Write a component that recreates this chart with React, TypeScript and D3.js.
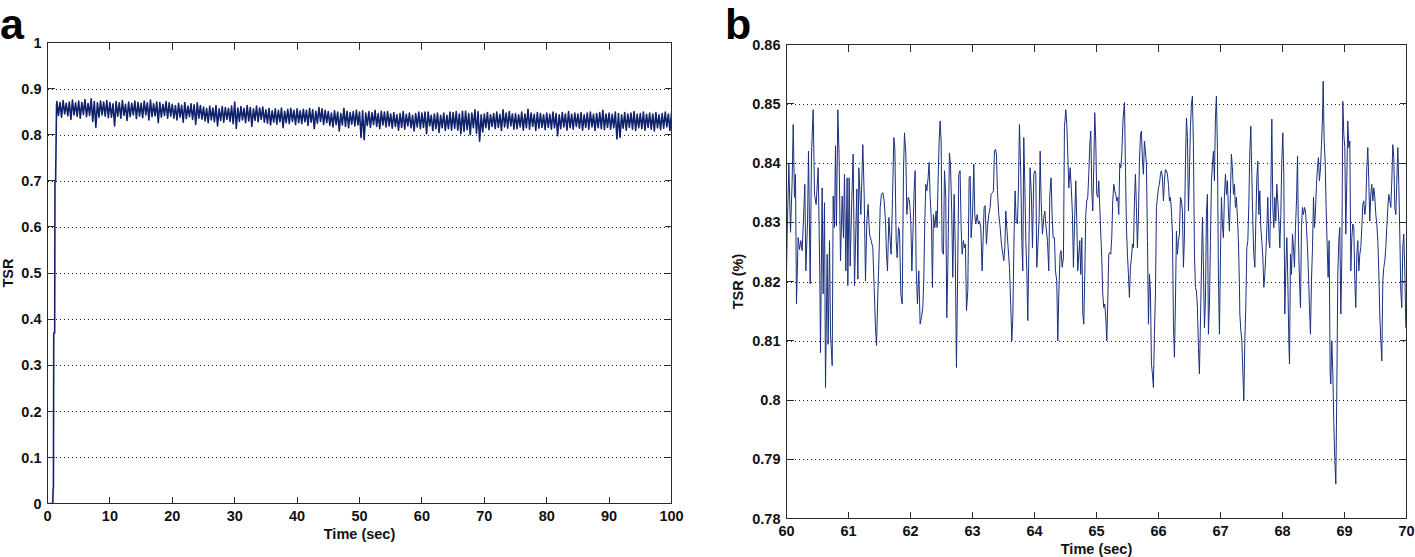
import * as React from 'react';
import * as d3 from 'd3';

const WIDTH = 1415;
const HEIGHT = 557;
const FONT = '"Liberation Sans", Arial, Helvetica, sans-serif';
const AXIS = '#2b2b2b';

// ---- panel a: whole run, 0-100 s ----
// start-up ramp before the signal settles
const rampTime = [0, 0.85, 0.9, 0.95, 1.0, 1.15, 1.2, 1.3, 1.45];
const rampTsr = [0, 0, 0.033, 0.033, 0.37, 0.37, 0.7, 0.7, 0.865];

// noisy band: local max / min every half second from 1.5 s
const bandStart = 1.5;
const bandStep = 0.5;
const bandHigh = [
  0.872, 0.870, 0.874, 0.868, 0.871, 0.875, 0.869, 0.873, 0.870, 0.876,
  0.868, 0.878, 0.872, 0.869, 0.873, 0.871, 0.874,
  0.870, 0.867, 0.872, 0.869, 0.874, 0.866, 0.871, 0.868, 0.873, 0.870,
  0.868, 0.873, 0.869, 0.875, 0.867, 0.871, 0.870, 0.866, 0.872, 0.869,
  0.866, 0.863, 0.868, 0.864, 0.870, 0.862, 0.867, 0.865, 0.869, 0.863,
  0.860, 0.857, 0.862, 0.858, 0.863, 0.856, 0.861, 0.859, 0.857, 0.862,
  0.871, 0.858, 0.861, 0.857, 0.863, 0.859, 0.856, 0.862, 0.858, 0.860,
  0.854, 0.857, 0.852, 0.856, 0.853, 0.858, 0.851, 0.855, 0.857, 0.853,
  0.856, 0.852, 0.855, 0.853, 0.857, 0.854, 0.851, 0.859, 0.856, 0.853,
  0.850, 0.847, 0.852, 0.849, 0.846, 0.857, 0.851, 0.848, 0.850, 0.853,
  0.849, 0.852, 0.847, 0.850, 0.848, 0.853, 0.846, 0.851, 0.849, 0.850,
  0.845, 0.848, 0.843, 0.846, 0.850, 0.844, 0.847, 0.842, 0.846, 0.849,
  0.847, 0.849, 0.849, 0.842, 0.845, 0.847, 0.842, 0.847, 0.842, 0.849,
  0.848, 0.850, 0.845, 0.851, 0.851, 0.846, 0.847, 0.854, 0.850, 0.843,
  0.845, 0.848, 0.843, 0.846, 0.849, 0.844, 0.854, 0.847, 0.850, 0.845,
  0.846, 0.843, 0.849, 0.845, 0.855, 0.847, 0.844, 0.848, 0.846, 0.843,
  0.847, 0.844, 0.849, 0.846, 0.843, 0.848, 0.845, 0.850, 0.844, 0.847,
  0.845, 0.848, 0.843, 0.847, 0.849, 0.844, 0.846, 0.848, 0.853, 0.845,
  0.847, 0.844, 0.849, 0.846, 0.843, 0.848, 0.845, 0.847, 0.850, 0.844,
  0.846, 0.849, 0.844, 0.847, 0.845, 0.848, 0.843, 0.846, 0.849, 0.845, 0.847,
];
const bandLow = [
  0.842, 0.838, 0.845, 0.841, 0.833, 0.843, 0.840, 0.836, 0.844, 0.839,
  0.842, 0.829, 0.816, 0.838, 0.843, 0.840, 0.837,
  0.838, 0.819, 0.840, 0.836, 0.842, 0.831, 0.839, 0.843, 0.835, 0.840,
  0.837, 0.843, 0.832, 0.839, 0.841, 0.826, 0.838, 0.842, 0.836, 0.840,
  0.836, 0.832, 0.838, 0.827, 0.835, 0.839, 0.833, 0.822, 0.836, 0.834,
  0.830, 0.826, 0.832, 0.828, 0.819, 0.831, 0.827, 0.833, 0.829, 0.824,
  0.8135, 0.829, 0.832, 0.826, 0.830, 0.818, 0.831, 0.828, 0.833, 0.827,
  0.825, 0.821, 0.827, 0.823, 0.828, 0.815, 0.826, 0.824, 0.829, 0.822,
  0.826, 0.824, 0.828, 0.820, 0.827, 0.813, 0.825, 0.829, 0.822, 0.826,
  0.820, 0.817, 0.822, 0.808, 0.821, 0.818, 0.815, 0.823, 0.819, 0.821,
  0.794, 0.789, 0.820, 0.816, 0.822, 0.818, 0.813, 0.821, 0.817, 0.819,
  0.814, 0.818, 0.810, 0.816, 0.812, 0.819, 0.815, 0.808, 0.817, 0.813,
  0.816, 0.802, 0.819, 0.809, 0.813, 0.805, 0.815, 0.809, 0.813, 0.810,
  0.814, 0.810, 0.802, 0.807, 0.811, 0.800, 0.815, 0.803, 0.786, 0.806,
  0.815, 0.811, 0.818, 0.813, 0.816, 0.809, 0.817, 0.814, 0.819, 0.812,
  0.813, 0.817, 0.810, 0.815, 0.812, 0.818, 0.809, 0.814, 0.816, 0.811,
  0.816, 0.812, 0.815, 0.798, 0.813, 0.817, 0.810, 0.815, 0.812, 0.818,
  0.814, 0.810, 0.816, 0.812, 0.817, 0.809, 0.815, 0.813, 0.811, 0.816,
  0.812, 0.815, 0.791, 0.794, 0.814, 0.810, 0.816, 0.812, 0.809, 0.815,
  0.813, 0.810, 0.816, 0.812, 0.808, 0.815, 0.811, 0.814, 0.817, 0.809, 0.812,
];

const aTicksX = [0, 10, 20, 30, 40, 50, 60, 70, 80, 90, 100];
const aTicksY = [0, 0.1, 0.2, 0.3, 0.4, 0.5, 0.6, 0.7, 0.8, 0.9, 1];
const aLabelsY = ['0', '0.1', '0.2', '0.3', '0.4', '0.5', '0.6', '0.7', '0.8', '0.9', '1'];

// ---- panel b: close-up 60-70 s, [time, TSR] at the turning points ----
const zoomSamples: [number, number][] = [
  [60.0, 0.8215], [60.011, 0.828], [60.038, 0.8398], [60.065, 0.8283], [60.091, 0.837],
  [60.108, 0.8465], [60.129, 0.8342], [60.145, 0.8381], [60.161, 0.8162], [60.188, 0.8274],
  [60.21, 0.8254], [60.231, 0.8269], [60.253, 0.8252], [60.28, 0.8322], [60.296, 0.8364],
  [60.312, 0.8218], [60.339, 0.8299], [60.355, 0.842], [60.382, 0.8196], [60.403, 0.8415],
  [60.43, 0.849], [60.452, 0.8347], [60.478, 0.833], [60.511, 0.8392], [60.538, 0.8207],
  [60.548, 0.808], [60.575, 0.8358], [60.591, 0.8179], [60.613, 0.8333], [60.629, 0.8021],
  [60.656, 0.8246], [60.672, 0.8094], [60.694, 0.8269], [60.71, 0.8111], [60.737, 0.8058],
  [60.753, 0.8344], [60.774, 0.8291], [60.79, 0.8429], [60.806, 0.8294], [60.828, 0.849],
  [60.849, 0.8409], [60.871, 0.8235], [60.898, 0.8344], [60.919, 0.8274], [60.935, 0.8381],
  [60.957, 0.8218], [60.978, 0.8375], [60.989, 0.8193], [61.011, 0.8375], [61.027, 0.8226],
  [61.048, 0.8319], [61.075, 0.8415], [61.097, 0.8193], [61.134, 0.8356], [61.151, 0.8204],
  [61.167, 0.8392], [61.199, 0.8313], [61.231, 0.8431], [61.253, 0.8347], [61.274, 0.8201],
  [61.296, 0.8302], [61.317, 0.833], [61.339, 0.828], [61.366, 0.8269], [61.392, 0.8257],
  [61.414, 0.819], [61.435, 0.8122], [61.452, 0.8092], [61.473, 0.8179], [61.489, 0.8229],
  [61.511, 0.8325], [61.532, 0.8347], [61.554, 0.835], [61.575, 0.8336], [61.597, 0.8302],
  [61.613, 0.8246], [61.629, 0.8218], [61.651, 0.8308], [61.672, 0.8269], [61.688, 0.8246],
  [61.71, 0.8342], [61.731, 0.8443], [61.747, 0.8426], [61.769, 0.8269], [61.785, 0.824],
  [61.806, 0.8291], [61.823, 0.8285], [61.844, 0.8179], [61.866, 0.8162], [61.887, 0.8387],
  [61.903, 0.8451], [61.925, 0.8415], [61.941, 0.8313], [61.962, 0.8342], [61.984, 0.8336],
  [62.005, 0.8302], [62.022, 0.8218], [62.059, 0.8353], [62.075, 0.8387], [62.091, 0.8224],
  [62.112, 0.8162], [62.134, 0.8218], [62.155, 0.8128], [62.177, 0.8139], [62.198, 0.8156],
  [62.214, 0.8201], [62.231, 0.8302], [62.247, 0.8364], [62.263, 0.8353], [62.284, 0.8375],
  [62.3, 0.8401], [62.317, 0.8342], [62.338, 0.8302], [62.354, 0.819], [62.37, 0.8313],
  [62.392, 0.8291], [62.413, 0.8319], [62.429, 0.8291], [62.446, 0.8375], [62.462, 0.8437],
  [62.478, 0.8471], [62.494, 0.8437], [62.51, 0.8252], [62.532, 0.8246], [62.548, 0.8387],
  [62.569, 0.8342], [62.585, 0.8139], [62.601, 0.8218], [62.628, 0.8417], [62.645, 0.8398],
  [62.666, 0.8313], [62.682, 0.8207], [62.704, 0.8347], [62.72, 0.8269], [62.741, 0.8055],
  [62.757, 0.8184], [62.779, 0.8381], [62.8, 0.8387], [62.817, 0.8291], [62.833, 0.8246],
  [62.854, 0.8269], [62.87, 0.8257], [62.886, 0.8263], [62.903, 0.8151], [62.924, 0.8184],
  [62.946, 0.8375], [62.962, 0.8378], [62.978, 0.8274], [63.0, 0.8313], [63.021, 0.8398],
  [63.037, 0.8313], [63.053, 0.8297], [63.075, 0.8313], [63.096, 0.8297], [63.112, 0.8302],
  [63.134, 0.8291], [63.155, 0.8218], [63.171, 0.8269], [63.187, 0.8325], [63.204, 0.8328],
  [63.225, 0.8263], [63.241, 0.8291], [63.263, 0.8313], [63.284, 0.8325], [63.3, 0.8347],
  [63.322, 0.835], [63.338, 0.8353], [63.354, 0.842], [63.37, 0.8423], [63.386, 0.8415],
  [63.402, 0.8353], [63.424, 0.8313], [63.446, 0.8291], [63.467, 0.8263], [63.489, 0.8246],
  [63.505, 0.8235], [63.521, 0.8257], [63.537, 0.8319], [63.553, 0.8291], [63.575, 0.8257],
  [63.596, 0.8224], [63.618, 0.8156], [63.634, 0.81], [63.65, 0.8139], [63.671, 0.828],
  [63.687, 0.8353], [63.704, 0.8302], [63.725, 0.8297], [63.741, 0.8358], [63.757, 0.8465],
  [63.779, 0.8381], [63.795, 0.8269], [63.811, 0.8218], [63.827, 0.8443], [63.844, 0.8364],
  [63.86, 0.8269], [63.876, 0.8218], [63.892, 0.8134], [63.908, 0.8246], [63.929, 0.8392],
  [63.951, 0.8342], [63.967, 0.8257], [63.989, 0.8381], [64.005, 0.8387], [64.021, 0.8381],
  [64.037, 0.8224], [64.053, 0.8257], [64.075, 0.8308], [64.091, 0.842], [64.107, 0.8336],
  [64.128, 0.828], [64.15, 0.8308], [64.166, 0.8319], [64.187, 0.8291], [64.209, 0.8269],
  [64.23, 0.8218], [64.247, 0.8347], [64.268, 0.8375], [64.284, 0.8313], [64.3, 0.8274],
  [64.322, 0.8274], [64.338, 0.8218], [64.359, 0.8201], [64.376, 0.81], [64.392, 0.8179],
  [64.413, 0.8246], [64.429, 0.8252], [64.446, 0.8224], [64.467, 0.824], [64.483, 0.846],
  [64.505, 0.849], [64.521, 0.8465], [64.537, 0.8415], [64.553, 0.8358], [64.575, 0.8392],
  [64.596, 0.8353], [64.612, 0.8313], [64.628, 0.8224], [64.644, 0.8291], [64.666, 0.837],
  [64.682, 0.8302], [64.698, 0.8218], [64.714, 0.8246], [64.73, 0.8269], [64.746, 0.8212],
  [64.763, 0.8274], [64.779, 0.8145], [64.795, 0.8128], [64.811, 0.8212], [64.827, 0.8313],
  [64.843, 0.8336], [64.859, 0.8342], [64.875, 0.8381], [64.892, 0.8431], [64.908, 0.8454],
  [64.924, 0.8353], [64.94, 0.8319], [64.956, 0.8392], [64.972, 0.8485], [64.988, 0.8437],
  [65.004, 0.8347], [65.021, 0.8342], [65.037, 0.837], [65.053, 0.8325], [65.069, 0.828],
  [65.085, 0.824], [65.101, 0.8179], [65.117, 0.8156], [65.133, 0.8162], [65.15, 0.8139],
  [65.166, 0.81], [65.182, 0.8167], [65.198, 0.8246], [65.214, 0.8249], [65.23, 0.8246],
  [65.246, 0.8274], [65.262, 0.8336], [65.279, 0.8364], [65.295, 0.8353], [65.311, 0.8347],
  [65.327, 0.8336], [65.343, 0.8342], [65.359, 0.8313], [65.375, 0.8398], [65.392, 0.8392],
  [65.408, 0.8415], [65.429, 0.8476], [65.451, 0.8502], [65.467, 0.8392], [65.483, 0.8291],
  [65.499, 0.8246], [65.515, 0.8212], [65.531, 0.8173], [65.547, 0.8224], [65.564, 0.824],
  [65.58, 0.8263], [65.596, 0.8257], [65.612, 0.8336], [65.628, 0.8381], [65.644, 0.8325],
  [65.66, 0.8257], [65.676, 0.8308], [65.693, 0.8403], [65.709, 0.8448], [65.725, 0.8454],
  [65.741, 0.8403], [65.757, 0.8381], [65.773, 0.8437], [65.789, 0.842], [65.805, 0.8398],
  [65.822, 0.8269], [65.838, 0.8128], [65.854, 0.8212], [65.87, 0.8184], [65.886, 0.8061],
  [65.902, 0.8044], [65.918, 0.8021], [65.934, 0.8111], [65.951, 0.8179], [65.967, 0.8325],
  [65.983, 0.8342], [65.999, 0.8358], [66.015, 0.8364], [66.031, 0.8381], [66.047, 0.8387],
  [66.063, 0.8375], [66.08, 0.8336], [66.096, 0.837], [66.112, 0.8389], [66.128, 0.8387],
  [66.144, 0.8381], [66.16, 0.8364], [66.176, 0.8336], [66.192, 0.8342], [66.209, 0.8319],
  [66.225, 0.828], [66.241, 0.8128], [66.257, 0.8072], [66.273, 0.8162], [66.289, 0.8285],
  [66.305, 0.8246], [66.322, 0.8269], [66.338, 0.828], [66.354, 0.8342], [66.37, 0.8336],
  [66.386, 0.8319], [66.402, 0.8224], [66.418, 0.8274], [66.434, 0.8398], [66.451, 0.8476],
  [66.467, 0.8443], [66.483, 0.8319], [66.499, 0.8381], [66.515, 0.846], [66.531, 0.8499],
  [66.547, 0.8513], [66.563, 0.8431], [66.58, 0.8246], [66.596, 0.819], [66.612, 0.8184],
  [66.628, 0.8156], [66.644, 0.8089], [66.66, 0.8044], [66.676, 0.8128], [66.692, 0.8218],
  [66.709, 0.8308], [66.725, 0.8224], [66.741, 0.8122], [66.757, 0.8167], [66.773, 0.8313],
  [66.789, 0.8347], [66.805, 0.8111], [66.822, 0.8162], [66.838, 0.8269], [66.854, 0.837],
  [66.87, 0.8398], [66.886, 0.842], [66.902, 0.837], [66.918, 0.8476], [66.934, 0.8513],
  [66.951, 0.842], [66.967, 0.8201], [66.983, 0.8111], [66.999, 0.824], [67.015, 0.8342],
  [67.031, 0.8297], [67.047, 0.8274], [67.063, 0.8342], [67.08, 0.8381], [67.096, 0.8347],
  [67.112, 0.837], [67.128, 0.8319], [67.144, 0.8285], [67.16, 0.8347], [67.176, 0.8415],
  [67.192, 0.8392], [67.209, 0.8347], [67.225, 0.8364], [67.241, 0.8325], [67.257, 0.8342],
  [67.273, 0.8308], [67.289, 0.8269], [67.305, 0.8196], [67.312, 0.8145], [67.328, 0.8117],
  [67.344, 0.81], [67.36, 0.8049], [67.376, 0.7999], [67.392, 0.81], [67.408, 0.8156],
  [67.425, 0.8257], [67.441, 0.8269], [67.457, 0.833], [67.473, 0.842], [67.489, 0.8462],
  [67.505, 0.8381], [67.521, 0.8302], [67.537, 0.8246], [67.554, 0.8224], [67.57, 0.8302],
  [67.586, 0.8375], [67.602, 0.8403], [67.618, 0.8313], [67.634, 0.8353], [67.65, 0.8291],
  [67.666, 0.8269], [67.683, 0.824], [67.699, 0.819], [67.715, 0.8212], [67.731, 0.8246],
  [67.747, 0.8291], [67.763, 0.8342], [67.779, 0.8269], [67.795, 0.8257], [67.812, 0.8353],
  [67.828, 0.8474], [67.844, 0.8325], [67.86, 0.8291], [67.876, 0.8342], [67.892, 0.8302],
  [67.908, 0.8364], [67.924, 0.8336], [67.941, 0.8302], [67.957, 0.8257], [67.973, 0.8313],
  [67.989, 0.8403], [68.005, 0.8451], [68.021, 0.8381], [68.037, 0.8145], [68.054, 0.8224],
  [68.07, 0.8274], [68.086, 0.8201], [68.102, 0.81], [68.113, 0.8061], [68.129, 0.8246],
  [68.145, 0.8212], [68.161, 0.828], [68.177, 0.8257], [68.193, 0.8224], [68.209, 0.8291],
  [68.226, 0.8336], [68.242, 0.8412], [68.258, 0.8269], [68.274, 0.8201], [68.29, 0.8156],
  [68.306, 0.8291], [68.322, 0.8325], [68.338, 0.8313], [68.355, 0.8325], [68.371, 0.8319],
  [68.387, 0.8291], [68.403, 0.8257], [68.419, 0.8212], [68.435, 0.8156], [68.451, 0.8111],
  [68.467, 0.8201], [68.484, 0.8257], [68.5, 0.8342], [68.516, 0.8291], [68.532, 0.8319],
  [68.548, 0.8364], [68.564, 0.8392], [68.58, 0.8409], [68.596, 0.837], [68.613, 0.8392],
  [68.629, 0.8431], [68.645, 0.8476], [68.656, 0.8538], [68.672, 0.8437], [68.688, 0.8403],
  [68.704, 0.8325], [68.72, 0.8263], [68.736, 0.8207], [68.752, 0.8269], [68.769, 0.8044],
  [68.779, 0.8027], [68.795, 0.81], [68.812, 0.8044], [68.828, 0.796], [68.844, 0.7898],
  [68.86, 0.7858], [68.876, 0.8016], [68.892, 0.8212], [68.908, 0.8269], [68.924, 0.8291],
  [68.941, 0.8145], [68.957, 0.824], [68.973, 0.8504], [68.989, 0.8448], [69.005, 0.8426],
  [69.021, 0.828], [69.037, 0.837], [69.053, 0.8471], [69.07, 0.8426], [69.086, 0.8437],
  [69.102, 0.8218], [69.118, 0.8274], [69.134, 0.8297], [69.15, 0.8291], [69.166, 0.8201],
  [69.182, 0.8156], [69.199, 0.8246], [69.215, 0.8269], [69.231, 0.8218], [69.247, 0.8246],
  [69.263, 0.8257], [69.279, 0.8291], [69.295, 0.833], [69.311, 0.8336], [69.328, 0.8313],
  [69.344, 0.833], [69.36, 0.8392], [69.376, 0.8426], [69.392, 0.837], [69.408, 0.8302],
  [69.424, 0.8347], [69.44, 0.8364], [69.457, 0.8336], [69.473, 0.8358], [69.489, 0.8342],
  [69.505, 0.8313], [69.521, 0.8297], [69.537, 0.8269], [69.553, 0.8218], [69.569, 0.8145],
  [69.586, 0.81], [69.602, 0.8066], [69.618, 0.8201], [69.634, 0.8224], [69.65, 0.8235],
  [69.666, 0.8257], [69.682, 0.8291], [69.699, 0.8325], [69.715, 0.8347], [69.731, 0.8336],
  [69.747, 0.8325], [69.763, 0.837], [69.779, 0.8431], [69.795, 0.8409], [69.811, 0.8325],
  [69.828, 0.8313], [69.844, 0.837], [69.86, 0.8426], [69.876, 0.8364], [69.892, 0.828],
  [69.908, 0.8184], [69.924, 0.8156], [69.94, 0.8257], [69.956, 0.828], [69.973, 0.8218],
  [69.989, 0.8122], [70.0, 0.8122],
];

const bTicksX = [60, 61, 62, 63, 64, 65, 66, 67, 68, 69, 70];
const bTicksY = [0.78, 0.79, 0.8, 0.81, 0.82, 0.83, 0.84, 0.85, 0.86];
const bLabelsY = ['0.78', '0.79', '0.8', '0.81', '0.82', '0.83', '0.84', '0.85', '0.86'];

function Panel({ box, xDomain, yDomain, xTicks, yTicks, yLabels, points, lineColor, lineWidth, xTitle, yTitle, yTitleX, letter, letterX }) {
  const x = d3.scaleLinear().domain(xDomain).range([box.left, box.right]);
  const y = d3.scaleLinear().domain(yDomain).range([box.bottom, box.top]);
  const line = d3
    .line<[number, number]>()
    .x(d => x(d[0]))
    .y(d => y(d[1]));
  const tick = 7;
  const inner = yTicks.slice(1, -1);

  return (
    <g fontFamily={FONT}>
      <text x={letterX} y={39} fontSize={43} fontWeight="bold" fill="#000">
        {letter}
      </text>
      {inner.map(v => (
        <line
          key={'g' + v}
          x1={box.left}
          x2={box.right}
          y1={Math.round(y(v)) + 0.5}
          y2={Math.round(y(v)) + 0.5}
          stroke="#222"
          strokeDasharray="1 3"
          shapeRendering="crispEdges"
        />
      ))}
      <clipPath id={'clip' + letter}>
        <rect x={box.left} y={box.top} width={box.right - box.left} height={box.bottom - box.top} />
      </clipPath>
      <path
        d={line(points)}
        fill="none"
        stroke={lineColor}
        strokeWidth={lineWidth}
        strokeLinejoin="round"
        clipPath={`url(#clip${letter})`}
      />
      <rect
        x={box.left}
        y={box.top}
        width={box.right - box.left}
        height={box.bottom - box.top}
        fill="none"
        stroke={AXIS}
        shapeRendering="crispEdges"
      />
      {xTicks.map(v => (
        <g key={'x' + v}>
          <line x1={x(v)} x2={x(v)} y1={box.bottom} y2={box.bottom - tick} stroke={AXIS} shapeRendering="crispEdges" />
          <line x1={x(v)} x2={x(v)} y1={box.top} y2={box.top + tick} stroke={AXIS} shapeRendering="crispEdges" />
          <text x={x(v)} y={box.bottom + 17.5} fontSize={14.5} fontWeight="bold" textAnchor="middle" fill="#111">
            {v}
          </text>
        </g>
      ))}
      {yTicks.map((v, i) => (
        <g key={'y' + v}>
          <line x1={box.left} x2={box.left + tick} y1={y(v)} y2={y(v)} stroke={AXIS} shapeRendering="crispEdges" />
          <line x1={box.right} x2={box.right - tick} y1={y(v)} y2={y(v)} stroke={AXIS} shapeRendering="crispEdges" />
          <text x={box.left - 6} y={y(v)} dy="0.36em" fontSize={14.5} fontWeight="bold" textAnchor="end" fill="#111">
            {yLabels[i]}
          </text>
        </g>
      ))}
      <text
        x={(box.left + box.right) / 2}
        y={box.bottom + 35}
        fontSize={14.5}
        fontWeight="bold"
        textAnchor="middle"
        fill="#111"
      >
        {xTitle}
      </text>
      <text
        transform={`translate(${yTitleX},${(box.top + box.bottom) / 2}) rotate(-90)`}
        dy="0.36em"
        fontSize={14.5}
        fontWeight="bold"
        textAnchor="middle"
        fill="#111"
      >
        {yTitle}
      </text>
    </g>
  );
}

export default function App() {
  const runPoints: [number, number][] = rampTime.map((t, i) => [t, rampTsr[i]] as [number, number]);
  bandHigh.forEach((hi, i) => {
    const t = bandStart + i * bandStep;
    runPoints.push([t, hi]);
    runPoints.push([t + bandStep / 2, bandLow[i]]);
  });

  return (
    <svg
      width={WIDTH}
      height={HEIGHT}
      style={{ position: 'absolute', left: 0, top: 0, background: '#fff' }}
    >
      <rect width={WIDTH} height={HEIGHT} fill="#fff" />
      <Panel
        box={{ left: 47.5, right: 671.5, top: 42.5, bottom: 503.5 }}
        xDomain={[0, 100]}
        yDomain={[0, 1]}
        xTicks={aTicksX}
        yTicks={aTicksY}
        yLabels={aLabelsY}
        points={runPoints}
        lineColor="#10226c"
        lineWidth={1.6}
        xTitle="Time (sec)"
        yTitle="TSR"
        yTitleX={8}
        letter="a"
        letterX={0}
      />
      <Panel
        box={{ left: 786.5, right: 1406.5, top: 44.5, bottom: 518.5 }}
        xDomain={[60, 70]}
        yDomain={[0.78, 0.86]}
        xTicks={bTicksX}
        yTicks={bTicksY}
        yLabels={bLabelsY}
        points={zoomSamples}
        lineColor="#1a2f7e"
        lineWidth={1}
        xTitle="Time (sec)"
        yTitle="TSR (%)"
        yTitleX={737.5}
        letter="b"
        letterX={725}
      />
    </svg>
  );
}
